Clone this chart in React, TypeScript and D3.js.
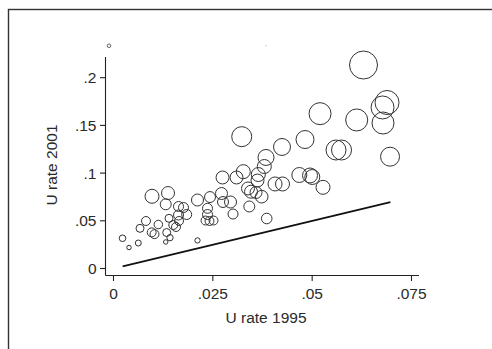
import React from "react";
import * as d3 from "d3";

// U rate 1995 (x), U rate 2001 (y), weight (marker size)
const urate1995 = [
  0.00227, 0.0039, 0.00624, 0.00667, 0.00818, 0.00969, 0.01372, 0.01314, 0.00961, 0.01032,
  0.01128, 0.01339, 0.01422, 0.01314, 0.01397, 0.01505, 0.01573, 0.01649, 0.01636, 0.01762,
  0.01636, 0.01842, 0.02114, 0.02114, 0.02429, 0.02366, 0.02366, 0.02316, 0.02416, 0.02517,
  0.02718, 0.02756, 0.02945, 0.03008, 0.02744, 0.03096, 0.03267, 0.03227, 0.03645, 0.03796,
  0.03838, 0.03624, 0.03385, 0.03461, 0.03587, 0.0373, 0.03418, 0.03856, 0.04065, 0.04254,
  0.04241, 0.04677, 0.04946, 0.05004, 0.05273, 0.0482, 0.05198, 0.056, 0.05739, 0.06121,
  0.06292, 0.06884, 0.06771, 0.06783, 0.0696,
];
const urate2001 = [
  0.0317, 0.022, 0.0267, 0.0421, 0.0498, 0.0757, 0.0791, 0.0673, 0.0379, 0.036,
  0.0461, 0.0377, 0.0323, 0.0278, 0.0526, 0.0456, 0.0435, 0.0498, 0.065, 0.0639,
  0.0561, 0.0566, 0.0294, 0.0718, 0.0749, 0.0631, 0.0566, 0.0503, 0.0498, 0.0503,
  0.0786, 0.0697, 0.0697, 0.0571, 0.0954, 0.0954, 0.1015, 0.1382, 0.0985, 0.1069,
  0.1164, 0.0922, 0.0839, 0.0805, 0.0797, 0.0753, 0.065, 0.0524, 0.0886, 0.0886,
  0.1274, 0.098, 0.0975, 0.0959, 0.0851, 0.1352, 0.1623, 0.1242, 0.1242, 0.1557,
  0.2133, 0.174, 0.1688, 0.1525, 0.1172,
];
const weights = [
  11, 5, 9, 16, 20, 49, 42, 30, 20, 20,
  18, 16, 10, 5, 16, 20, 20, 20, 25, 25,
  25, 25, 7, 36, 30, 25, 25, 20, 20, 20,
  36, 30, 36, 25, 42, 42, 49, 100, 49, 49,
  64, 42, 42, 42, 36, 40, 30, 28, 49, 49,
  72, 56, 56, 56, 49, 81, 121, 100, 100, 121,
  196, 144, 132, 121, 90,
];

// small markers above the plot
const topX = [-0.00113, 0.03838];
const topY = [0.2335, 0.2335];
const topW = [3.2, 0.3];

// 45-degree reference line
const lineX = [0.0023, 0.0697];

const xTicks = [0, 0.025, 0.05, 0.075];
const xTickLabels = ["0", ".025", ".05", ".075"];
const yTicks = [0, 0.05, 0.1, 0.15, 0.2];
const yTickLabels = ["0", ".05", ".1", ".15", ".2"];

export default function App() {
  const W = 492;
  const H = 349;
  const x = d3.scaleLinear().domain([0, 0.075]).range([113.5, 411.5]);
  const y = d3.scaleLinear().domain([0, 0.2]).range([268.5, 77.7]);
  const r = d3.scaleSqrt().domain([0, 196]).range([0, 14]);

  const axisLeft = 105.5;
  const axisBottom = 275.5;
  const font = "'Liberation Sans', Arial, Helvetica, sans-serif";
  const textColor = "#2a2a2a";

  const lineGen = d3
    .line<number>()
    .x((d) => x(d))
    .y((d) => y(d));

  const pts = urate1995.map((v, i) => ({ x: v, y: urate2001[i], w: weights[i] }));

  return (
    <svg
      width={W}
      height={H}
      style={{ position: "absolute", left: 0, top: 0, background: "#fff" }}
      fontFamily={font}
    >
      <rect x={0} y={0} width={W} height={H} fill="#fff" />
      <rect x={8.5} y={9.5} width={700} height={700} fill="none" stroke="#333" strokeWidth={1.4} />

      {/* axes */}
      <line x1={axisLeft} x2={axisLeft} y1={57} y2={axisBottom} stroke="#222" strokeWidth={1.1} />
      <line x1={axisLeft} x2={419} y1={axisBottom} y2={axisBottom} stroke="#222" strokeWidth={1.1} />

      {yTicks.map((t, i) => (
        <g key={"yt" + i}>
          <line x1={axisLeft - 5.5} x2={axisLeft} y1={y(t)} y2={y(t)} stroke="#222" strokeWidth={1.1} />
          <text
            x={96.5}
            y={y(t)}
            textAnchor="end"
            dominantBaseline="central"
            fontSize={15.5}
            fill={textColor}
          >
            {yTickLabels[i]}
          </text>
        </g>
      ))}
      {xTicks.map((t, i) => (
        <g key={"xt" + i}>
          <line x1={x(t)} x2={x(t)} y1={axisBottom} y2={axisBottom + 5.5} stroke="#222" strokeWidth={1.1} />
          <text x={x(t)} y={299} textAnchor="middle" fontSize={15.5} fill={textColor}>
            {xTickLabels[i]}
          </text>
        </g>
      ))}

      <text x={266} y={323} textAnchor="middle" fontSize={15.5} fill={textColor}>
        U rate 1995
      </text>
      <text
        transform={`translate(56.5,165) rotate(-90)`}
        textAnchor="middle"
        fontSize={15.5}
        fill={textColor}
      >
        U rate 2001
      </text>

      {/* reference line */}
      <path d={lineGen(lineX) || ""} stroke="#111" strokeWidth={1.8} fill="none" />

      {/* bubbles */}
      {pts.map((p, i) => (
        <circle
          key={"c" + i}
          cx={x(p.x)}
          cy={y(p.y)}
          r={r(p.w)}
          fill="none"
          stroke="#333"
          strokeWidth={1}
        />
      ))}

      {topX.map((v, i) => (
        <circle
          key={"t" + i}
          cx={x(v)}
          cy={y(topY[i])}
          r={Math.max(r(topW[i]), 0.6)}
          fill={i === 1 ? "#999" : "none"}
          stroke={i === 1 ? "none" : "#555"}
          strokeWidth={0.9}
        />
      ))}
    </svg>
  );
}
